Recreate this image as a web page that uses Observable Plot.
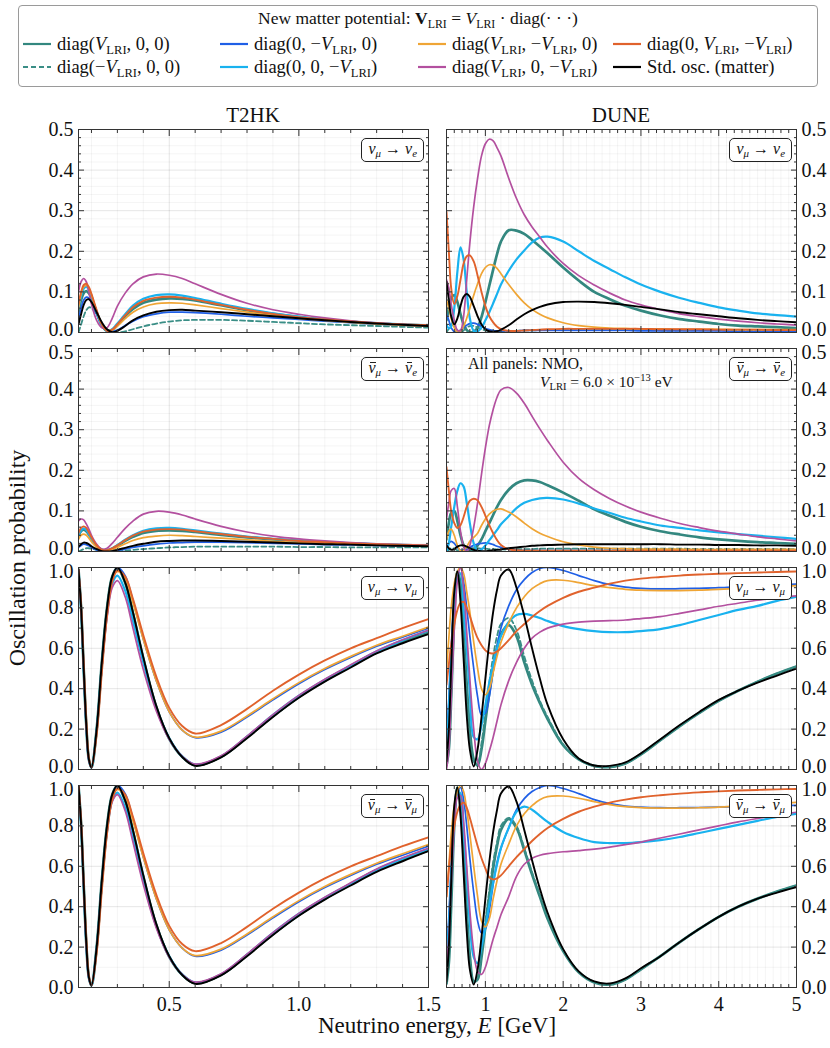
<!DOCTYPE html>
<html><head><meta charset="utf-8">
<script src="https://cdn.jsdelivr.net/npm/d3@7"></script>
<script src="https://cdn.jsdelivr.net/npm/@observablehq/plot@0.6"></script>
<style>
body{margin:0;background:#fff;}
#root{position:relative;width:830px;height:1048px;font-family:"Liberation Serif","DejaVu Serif",serif;color:#111;overflow:hidden;background:#fff}
.abs{position:absolute;white-space:nowrap}
sub{font-size:0.68em;vertical-align:-0.32em;line-height:0}
sup{font-size:0.68em;vertical-align:0.55em;line-height:0}
.legend{left:18px;top:5px;width:800px;height:82px;border:1px solid #9a9a9a;border-radius:4px;box-sizing:border-box;background:#fff}
.lt{font-size:18.5px;line-height:20px}
.ttl{font-size:17.5px;line-height:20px}
.pl{border:1px solid #222;border-radius:5px;background:#fff;font-size:16px;font-style:italic;padding:1px 6px 3px 6px;line-height:18px}
.ob{position:relative;display:inline-block}
.ob .bar{position:absolute;left:2px;right:0px;top:3px;border-top:1px solid #222;height:0}
</style></head><body><div id="root"></div><script>
// ---------- energy grids ----------
const E_T2HK = [0.15,0.16,0.17,0.18,0.19,0.20,0.22,0.24,0.26,0.28,0.30,0.33,0.36,0.40,0.45,0.50,0.55,0.60,0.70,0.80,0.90,1.00,1.10,1.20,1.30,1.40,1.50];
const E_DUNE = [0.5,0.53,0.56,0.6,0.64,0.68,0.72,0.76,0.8,0.85,0.9,0.95,1.0,1.05,1.1,1.15,1.2,1.3,1.4,1.5,1.6,1.7,1.8,2.0,2.2,2.4,2.6,2.8,3.0,3.25,3.5,3.75,4.0,4.25,4.5,4.75,5.0];

// ---------- T2HK  nu_mu -> nu_e ----------
const T2HK_mue = {
 A:[0.05,0.08,0.097,0.102,0.097,0.085,0.05,0.018,0.004,0.006,0.018,0.04,0.058,0.073,0.081,0.084,0.083,0.079,0.067,0.055,0.046,0.038,0.031,0.026,0.022,0.019,0.017],
 B:[0.0,0.02,0.04,0.055,0.062,0.06,0.045,0.022,0.007,0.0,0.0,0.003,0.008,0.015,0.022,0.027,0.03,0.031,0.031,0.029,0.026,0.023,0.02,0.018,0.016,0.014,0.012],
 C:[0.03,0.06,0.08,0.087,0.085,0.075,0.045,0.018,0.004,0.002,0.006,0.017,0.028,0.039,0.046,0.05,0.05,0.049,0.045,0.04,0.036,0.032,0.028,0.024,0.021,0.018,0.016],
 D:[0.06,0.09,0.108,0.113,0.105,0.09,0.05,0.018,0.004,0.008,0.022,0.045,0.066,0.083,0.092,0.094,0.091,0.085,0.071,0.058,0.047,0.039,0.032,0.027,0.023,0.02,0.018],
 E:[0.06,0.095,0.112,0.116,0.108,0.092,0.052,0.02,0.005,0.006,0.016,0.034,0.05,0.063,0.071,0.073,0.072,0.068,0.059,0.05,0.042,0.035,0.03,0.025,0.021,0.018,0.016],
 F:[0.10,0.125,0.133,0.125,0.10,0.07,0.03,0.012,0.012,0.035,0.065,0.097,0.12,0.137,0.144,0.141,0.133,0.12,0.094,0.072,0.056,0.045,0.036,0.029,0.024,0.02,0.018],
 G:[0.07,0.1,0.117,0.12,0.112,0.095,0.055,0.02,0.004,0.007,0.02,0.042,0.062,0.078,0.086,0.088,0.086,0.081,0.068,0.056,0.046,0.038,0.032,0.027,0.023,0.02,0.018],
 H:[0.02,0.045,0.068,0.08,0.082,0.075,0.05,0.025,0.008,0.001,0.004,0.016,0.03,0.042,0.051,0.055,0.056,0.054,0.05,0.045,0.04,0.035,0.03,0.026,0.022,0.019,0.016]
};
// ---------- T2HK  anti nu_mu -> anti nu_e ----------
const T2HK_mue_bar = {
 A:[0.038,0.05,0.054,0.05,0.042,0.031,0.013,0.004,0.003,0.007,0.014,0.026,0.036,0.046,0.051,0.052,0.051,0.048,0.041,0.035,0.03,0.026,0.022,0.02,0.017,0.016,0.014],
 B:[0.0,0.003,0.006,0.008,0.008,0.007,0.004,0.001,0.0,0.0,0.001,0.002,0.004,0.006,0.008,0.01,0.011,0.012,0.012,0.012,0.012,0.011,0.011,0.01,0.01,0.01,0.01],
 C:[0.01,0.015,0.018,0.017,0.014,0.01,0.004,0.001,0.0,0.001,0.003,0.006,0.01,0.014,0.018,0.021,0.022,0.023,0.023,0.022,0.02,0.019,0.017,0.016,0.015,0.014,0.013],
 D:[0.04,0.052,0.057,0.053,0.043,0.032,0.014,0.004,0.003,0.008,0.016,0.029,0.04,0.051,0.057,0.058,0.056,0.052,0.044,0.037,0.031,0.027,0.023,0.02,0.018,0.016,0.015],
 E:[0.03,0.04,0.043,0.04,0.033,0.024,0.01,0.003,0.002,0.005,0.01,0.019,0.027,0.034,0.038,0.04,0.039,0.037,0.033,0.029,0.025,0.022,0.02,0.018,0.016,0.015,0.014],
 F:[0.075,0.08,0.078,0.068,0.055,0.04,0.018,0.006,0.008,0.02,0.035,0.057,0.075,0.092,0.099,0.097,0.09,0.08,0.062,0.048,0.038,0.031,0.026,0.022,0.019,0.017,0.015],
 G:[0.045,0.058,0.062,0.058,0.047,0.035,0.015,0.004,0.003,0.008,0.015,0.028,0.039,0.049,0.054,0.055,0.054,0.05,0.043,0.036,0.031,0.026,0.023,0.02,0.018,0.016,0.015],
 H:[0.012,0.018,0.022,0.021,0.018,0.013,0.006,0.001,0.0,0.001,0.004,0.009,0.014,0.019,0.024,0.026,0.027,0.027,0.026,0.024,0.022,0.02,0.018,0.017,0.015,0.014,0.013]
};
// ---------- T2HK  nu_mu -> nu_mu ----------
const T2HK_mumu = {
 A:[0.99,0.8,0.5,0.22,0.05,0.01,0.2,0.53,0.8,0.955,0.998,0.925,0.775,0.55,0.31,0.152,0.063,0.022,0.063,0.16,0.265,0.36,0.44,0.512,0.58,0.632,0.678],
 B:[0.99,0.8,0.5,0.22,0.05,0.01,0.2,0.53,0.8,0.955,0.999,0.926,0.777,0.552,0.311,0.152,0.062,0.021,0.062,0.158,0.262,0.358,0.438,0.51,0.578,0.63,0.676],
 C:[0.99,0.81,0.52,0.24,0.055,0.01,0.18,0.5,0.77,0.94,1.0,0.96,0.835,0.645,0.44,0.285,0.195,0.158,0.185,0.26,0.345,0.425,0.495,0.555,0.61,0.655,0.70],
 D:[0.99,0.8,0.5,0.22,0.05,0.01,0.19,0.51,0.77,0.92,0.96,0.885,0.735,0.53,0.305,0.155,0.065,0.025,0.065,0.163,0.27,0.365,0.445,0.515,0.585,0.64,0.688],
 E:[0.99,0.81,0.52,0.24,0.055,0.01,0.18,0.5,0.77,0.94,0.98,0.945,0.825,0.645,0.44,0.285,0.195,0.16,0.19,0.265,0.35,0.43,0.5,0.56,0.615,0.66,0.705],
 F:[0.99,0.8,0.5,0.21,0.045,0.01,0.19,0.5,0.75,0.9,0.935,0.855,0.7,0.495,0.29,0.15,0.065,0.027,0.068,0.165,0.272,0.367,0.447,0.518,0.587,0.642,0.69],
 G:[0.99,0.82,0.53,0.25,0.06,0.01,0.17,0.48,0.76,0.93,0.985,0.955,0.845,0.665,0.46,0.305,0.215,0.178,0.22,0.3,0.39,0.47,0.54,0.6,0.65,0.7,0.745],
 H:[0.99,0.8,0.5,0.22,0.05,0.01,0.2,0.53,0.8,0.955,1.0,0.926,0.778,0.555,0.315,0.155,0.062,0.018,0.06,0.155,0.26,0.355,0.435,0.505,0.575,0.625,0.67]
};
// ---------- T2HK  anti nu_mu -> anti nu_mu ----------
const T2HK_mumu_bar = {
 A:[1.0,0.81,0.51,0.22,0.05,0.01,0.2,0.53,0.8,0.955,0.998,0.925,0.775,0.55,0.31,0.152,0.063,0.022,0.063,0.16,0.265,0.36,0.44,0.512,0.58,0.632,0.68],
 B:[1.0,0.81,0.51,0.22,0.05,0.01,0.2,0.53,0.8,0.955,0.999,0.926,0.777,0.552,0.311,0.152,0.062,0.021,0.062,0.158,0.262,0.358,0.438,0.51,0.578,0.63,0.678],
 C:[1.0,0.82,0.52,0.24,0.055,0.01,0.18,0.5,0.77,0.94,1.0,0.96,0.835,0.645,0.44,0.285,0.195,0.155,0.185,0.26,0.345,0.425,0.495,0.555,0.61,0.655,0.70],
 D:[1.0,0.81,0.51,0.22,0.05,0.01,0.19,0.51,0.77,0.925,0.965,0.89,0.74,0.53,0.305,0.155,0.065,0.025,0.065,0.163,0.27,0.365,0.445,0.515,0.583,0.638,0.686],
 E:[1.0,0.82,0.52,0.24,0.055,0.01,0.18,0.5,0.77,0.94,0.98,0.945,0.825,0.645,0.44,0.285,0.195,0.158,0.19,0.265,0.35,0.43,0.5,0.56,0.615,0.662,0.708],
 F:[1.0,0.81,0.5,0.21,0.045,0.01,0.19,0.51,0.77,0.92,0.955,0.875,0.72,0.51,0.295,0.15,0.065,0.027,0.068,0.165,0.272,0.367,0.447,0.518,0.587,0.642,0.69],
 G:[1.0,0.83,0.53,0.25,0.06,0.01,0.17,0.48,0.76,0.93,0.985,0.955,0.845,0.665,0.46,0.305,0.215,0.18,0.22,0.3,0.39,0.47,0.54,0.6,0.65,0.7,0.744],
 H:[1.0,0.81,0.51,0.22,0.05,0.01,0.2,0.53,0.8,0.955,1.0,0.926,0.778,0.555,0.315,0.155,0.062,0.018,0.06,0.155,0.26,0.355,0.435,0.505,0.572,0.625,0.675]
};
// ---------- DUNE  nu_mu -> nu_e ----------
const DUNE_mue = {
 A:[0.03,0.06,0.085,0.092,0.075,0.045,0.02,0.006,0.001,0.002,0.012,0.038,0.075,0.115,0.155,0.193,0.224,0.252,0.251,0.243,0.228,0.212,0.195,0.16,0.128,0.1,0.082,0.066,0.054,0.042,0.033,0.027,0.021,0.017,0.015,0.013,0.011],
 B:[0.0,0.01,0.02,0.015,0.005,0.0,0.005,0.012,0.016,0.016,0.012,0.008,0.005,0.003,0.002,0.002,0.002,0.003,0.004,0.005,0.005,0.006,0.006,0.006,0.006,0.006,0.006,0.006,0.006,0.005,0.005,0.005,0.005,0.005,0.004,0.004,0.004],
 C:[0.045,0.03,0.012,0.002,0.002,0.006,0.012,0.018,0.022,0.023,0.02,0.015,0.01,0.007,0.005,0.004,0.004,0.004,0.004,0.005,0.005,0.005,0.005,0.005,0.005,0.005,0.005,0.005,0.004,0.004,0.004,0.004,0.004,0.003,0.003,0.003,0.003],
 D:[0.02,0.01,0.015,0.06,0.15,0.21,0.18,0.1,0.035,0.004,0.003,0.012,0.03,0.05,0.072,0.095,0.118,0.152,0.18,0.202,0.222,0.234,0.236,0.224,0.2,0.176,0.156,0.136,0.118,0.1,0.085,0.073,0.062,0.054,0.047,0.043,0.039],
 E:[0.08,0.06,0.035,0.012,0.001,0.003,0.015,0.035,0.06,0.092,0.12,0.145,0.16,0.167,0.166,0.158,0.145,0.118,0.094,0.073,0.057,0.045,0.036,0.024,0.017,0.013,0.011,0.01,0.009,0.009,0.008,0.008,0.008,0.007,0.007,0.007,0.007],
 F:[0.13,0.11,0.07,0.03,0.006,0.005,0.04,0.13,0.22,0.31,0.38,0.435,0.465,0.476,0.472,0.455,0.435,0.38,0.33,0.29,0.26,0.235,0.21,0.17,0.14,0.117,0.097,0.08,0.068,0.056,0.046,0.039,0.033,0.028,0.024,0.021,0.018],
 G:[0.297,0.2,0.11,0.07,0.09,0.13,0.17,0.188,0.19,0.175,0.14,0.1,0.065,0.04,0.025,0.014,0.008,0.004,0.004,0.005,0.006,0.007,0.008,0.009,0.009,0.009,0.009,0.009,0.009,0.008,0.008,0.008,0.007,0.007,0.007,0.006,0.006],
 H:[0.125,0.08,0.04,0.02,0.035,0.065,0.088,0.095,0.088,0.065,0.04,0.02,0.008,0.003,0.002,0.003,0.007,0.018,0.032,0.045,0.055,0.063,0.069,0.075,0.076,0.075,0.072,0.068,0.063,0.057,0.05,0.045,0.04,0.035,0.031,0.028,0.025]
};
// ---------- DUNE  anti nu_mu -> anti nu_e ----------
const DUNE_mue_bar = {
 A:[0.03,0.07,0.095,0.1,0.075,0.04,0.015,0.003,0.0,0.004,0.015,0.03,0.05,0.07,0.09,0.11,0.127,0.152,0.168,0.175,0.175,0.171,0.163,0.145,0.125,0.104,0.088,0.073,0.061,0.05,0.042,0.035,0.03,0.026,0.023,0.021,0.019],
 B:[0.0,0.004,0.008,0.007,0.003,0.002,0.004,0.006,0.008,0.008,0.008,0.007,0.007,0.006,0.006,0.005,0.005,0.005,0.006,0.006,0.006,0.007,0.007,0.007,0.007,0.007,0.007,0.007,0.007,0.007,0.007,0.006,0.006,0.006,0.006,0.006,0.006],
 C:[0.01,0.02,0.025,0.02,0.01,0.003,0.002,0.005,0.01,0.015,0.018,0.02,0.021,0.02,0.017,0.013,0.01,0.005,0.003,0.002,0.002,0.002,0.002,0.002,0.002,0.002,0.002,0.002,0.002,0.002,0.002,0.002,0.002,0.002,0.002,0.002,0.002],
 D:[0.0,0.02,0.06,0.11,0.15,0.168,0.16,0.12,0.07,0.02,0.002,0.005,0.015,0.028,0.04,0.053,0.067,0.087,0.107,0.12,0.127,0.131,0.132,0.128,0.118,0.106,0.095,0.083,0.074,0.064,0.058,0.052,0.047,0.043,0.039,0.035,0.031],
 E:[0.03,0.05,0.055,0.04,0.015,0.002,0.002,0.012,0.025,0.035,0.045,0.064,0.08,0.092,0.1,0.104,0.105,0.097,0.085,0.07,0.056,0.045,0.037,0.024,0.016,0.011,0.008,0.007,0.006,0.006,0.006,0.005,0.005,0.005,0.005,0.005,0.005],
 F:[0.08,0.12,0.15,0.155,0.11,0.05,0.012,0.0,0.015,0.06,0.12,0.19,0.255,0.31,0.35,0.38,0.398,0.404,0.39,0.365,0.333,0.302,0.273,0.22,0.18,0.152,0.13,0.112,0.097,0.082,0.069,0.059,0.05,0.043,0.036,0.031,0.026],
 G:[0.208,0.15,0.1,0.07,0.058,0.065,0.085,0.11,0.125,0.13,0.126,0.11,0.088,0.065,0.045,0.028,0.016,0.005,0.003,0.002,0.002,0.002,0.002,0.002,0.002,0.002,0.002,0.002,0.002,0.002,0.002,0.002,0.002,0.002,0.002,0.002,0.002],
 H:[0.015,0.008,0.004,0.006,0.012,0.015,0.015,0.012,0.008,0.004,0.002,0.001,0.001,0.002,0.003,0.004,0.005,0.008,0.01,0.012,0.014,0.015,0.016,0.017,0.018,0.018,0.018,0.018,0.018,0.018,0.017,0.017,0.016,0.016,0.015,0.015,0.014]
};
// ---------- DUNE  nu_mu -> nu_mu ----------
const DUNE_mumu = {
 A:[0.02,0.1,0.35,0.75,0.98,0.92,0.68,0.42,0.2,0.05,0.02,0.1,0.24,0.38,0.5,0.6,0.67,0.715,0.66,0.53,0.42,0.33,0.25,0.12,0.05,0.018,0.012,0.03,0.075,0.145,0.215,0.28,0.34,0.39,0.435,0.475,0.51],
 B:[0.02,0.12,0.4,0.8,0.98,0.9,0.65,0.38,0.17,0.04,0.03,0.13,0.28,0.43,0.56,0.66,0.72,0.75,0.69,0.56,0.44,0.34,0.26,0.125,0.05,0.016,0.012,0.03,0.075,0.145,0.215,0.28,0.34,0.39,0.435,0.475,0.51],
 C:[0.15,0.35,0.6,0.85,0.97,1.0,0.93,0.8,0.66,0.5,0.36,0.27,0.28,0.36,0.49,0.61,0.7,0.81,0.89,0.94,0.975,0.995,1.0,0.985,0.96,0.935,0.915,0.903,0.897,0.894,0.895,0.897,0.9,0.905,0.91,0.914,0.918],
 D:[0.12,0.3,0.55,0.82,0.97,0.97,0.8,0.6,0.38,0.16,0.15,0.22,0.32,0.43,0.52,0.6,0.66,0.73,0.765,0.77,0.762,0.75,0.735,0.71,0.695,0.685,0.68,0.68,0.685,0.695,0.715,0.74,0.765,0.79,0.81,0.835,0.855],
 E:[0.49,0.65,0.8,0.92,0.98,1.0,0.97,0.88,0.78,0.63,0.5,0.4,0.37,0.4,0.48,0.56,0.63,0.725,0.8,0.855,0.895,0.92,0.935,0.937,0.925,0.91,0.9,0.892,0.888,0.886,0.886,0.888,0.892,0.896,0.9,0.905,0.91],
 F:[0.0,0.1,0.35,0.7,0.93,1.0,0.9,0.68,0.45,0.2,0.04,0.0,0.03,0.09,0.16,0.24,0.32,0.44,0.53,0.6,0.65,0.68,0.7,0.72,0.73,0.735,0.737,0.74,0.747,0.757,0.773,0.79,0.808,0.823,0.838,0.85,0.86],
 G:[0.42,0.52,0.62,0.72,0.79,0.825,0.83,0.8,0.76,0.7,0.65,0.615,0.59,0.577,0.575,0.585,0.6,0.64,0.685,0.72,0.755,0.785,0.81,0.85,0.88,0.9,0.92,0.935,0.945,0.953,0.96,0.965,0.969,0.972,0.975,0.978,0.98],
 H:[0.04,0.2,0.5,0.88,0.98,0.83,0.55,0.27,0.1,0.015,0.1,0.26,0.45,0.63,0.78,0.89,0.96,0.99,0.9,0.76,0.6,0.45,0.32,0.15,0.055,0.02,0.018,0.035,0.08,0.15,0.22,0.285,0.345,0.39,0.43,0.465,0.5]
};
// ---------- DUNE  anti nu_mu -> anti nu_mu ----------
const DUNE_mumu_bar = {
 A:[0.02,0.12,0.4,0.8,0.99,0.92,0.66,0.38,0.16,0.03,0.04,0.15,0.3,0.45,0.59,0.7,0.78,0.835,0.79,0.68,0.56,0.45,0.34,0.18,0.075,0.025,0.015,0.04,0.09,0.155,0.225,0.29,0.35,0.4,0.44,0.475,0.505],
 B:[0.02,0.14,0.44,0.84,0.99,0.9,0.63,0.35,0.14,0.025,0.05,0.17,0.33,0.48,0.62,0.72,0.8,0.84,0.8,0.69,0.57,0.46,0.35,0.185,0.078,0.026,0.015,0.04,0.09,0.155,0.225,0.29,0.35,0.4,0.44,0.475,0.505],
 C:[0.15,0.35,0.6,0.85,0.96,0.99,0.93,0.8,0.64,0.47,0.33,0.27,0.29,0.38,0.51,0.62,0.69,0.79,0.88,0.935,0.97,0.99,1.0,0.985,0.96,0.93,0.91,0.898,0.893,0.89,0.89,0.891,0.893,0.895,0.897,0.9,0.902],
 D:[0.15,0.3,0.55,0.83,0.97,0.96,0.78,0.55,0.32,0.15,0.12,0.2,0.3,0.41,0.52,0.61,0.69,0.79,0.87,0.895,0.88,0.85,0.82,0.77,0.74,0.72,0.715,0.715,0.72,0.73,0.745,0.765,0.785,0.805,0.825,0.845,0.86],
 E:[0.45,0.6,0.76,0.9,0.97,1.0,0.97,0.88,0.76,0.6,0.45,0.33,0.3,0.34,0.44,0.53,0.61,0.71,0.8,0.86,0.9,0.93,0.945,0.948,0.937,0.92,0.905,0.895,0.89,0.888,0.888,0.89,0.893,0.898,0.903,0.91,0.917],
 F:[0.1,0.25,0.5,0.8,0.94,0.95,0.82,0.6,0.38,0.18,0.08,0.065,0.1,0.17,0.24,0.3,0.36,0.45,0.55,0.61,0.64,0.655,0.663,0.672,0.678,0.685,0.695,0.707,0.72,0.74,0.76,0.78,0.8,0.82,0.837,0.853,0.868],
 G:[0.45,0.58,0.7,0.8,0.87,0.905,0.915,0.89,0.84,0.77,0.7,0.64,0.59,0.545,0.535,0.54,0.555,0.6,0.645,0.685,0.725,0.76,0.79,0.835,0.87,0.895,0.915,0.93,0.942,0.952,0.96,0.966,0.971,0.975,0.978,0.981,0.983],
 H:[0.03,0.2,0.52,0.9,0.99,0.85,0.57,0.28,0.09,0.015,0.09,0.25,0.44,0.62,0.77,0.88,0.96,0.995,0.92,0.78,0.63,0.49,0.37,0.19,0.08,0.03,0.02,0.045,0.095,0.155,0.225,0.29,0.35,0.4,0.44,0.47,0.497]
};

// ---------- tick labels ----------
const T2HK_xTicks = [0.5, 1.0, 1.5];
const DUNE_xTicks = [1, 2, 3, 4, 5];
const P_ticks_e = [0, 0.1, 0.2, 0.3, 0.4, 0.5];
const P_ticks_mu = [0, 0.2, 0.4, 0.6, 0.8, 1.0];

// ---------- series styling / legend text ----------
const SERIES = [
 {key:"A", color:"#33877f", width:2.7, dash:null, label:'diag(<i>V</i><sub>LRI</sub>, 0, 0)'},
 {key:"B", color:"#3a8e86", width:1.8, dash:"5,3", label:'diag(−<i>V</i><sub>LRI</sub>, 0, 0)'},
 {key:"C", color:"#1f5fe6", width:1.7, dash:null, label:'diag(0, −<i>V</i><sub>LRI</sub>, 0)'},
 {key:"D", color:"#19b2ef", width:2.2, dash:null, label:'diag(0, 0, −<i>V</i><sub>LRI</sub>)'},
 {key:"E", color:"#efa535", width:1.7, dash:null, label:'diag(<i>V</i><sub>LRI</sub>, −<i>V</i><sub>LRI</sub>, 0)'},
 {key:"F", color:"#b3509f", width:1.7, dash:null, label:'diag(<i>V</i><sub>LRI</sub>, 0, −<i>V</i><sub>LRI</sub>)'},
 {key:"G", color:"#e0622c", width:1.9, dash:null, label:'diag(0, <i>V</i><sub>LRI</sub>, −<i>V</i><sub>LRI</sub>)'},
 {key:"H", color:"#000000", width:1.9, dash:null, label:'Std. osc. (matter)'}
];

const root = document.getElementById("root");
function addHTML(cls, html, style) {
  const d = document.createElement("div");
  d.className = "abs " + (cls || "");
  d.innerHTML = html;
  Object.assign(d.style, style);
  root.appendChild(d);
  return d;
}

// ---------- legend ----------
addHTML("legend", "", {});
addHTML("ttl", 'New matter potential: <b>V</b><sub>LRI</sub> = <i>V</i><sub>LRI</sub> · diag(· · ·)', {left:"18px", width:"800px", top:"8px", textAlign:"center"});
const legCols = [22, 219, 417, 612];
const legRows = [45, 68];
const legOrder = [["A","B"],["C","D"],["E","F"],["G","H"]];
legOrder.forEach((col, ci) => col.forEach((k, ri) => {
  const s = SERIES.find(d => d.key === k);
  const y = legRows[ri];
  addHTML("", `<svg width="30" height="6"><line x1="1" y1="3" x2="29" y2="3" stroke="${s.color}" stroke-width="2.2" ${s.dash ? 'stroke-dasharray="5,3"' : ''}/></svg>`, {left: legCols[ci] + "px", top: (y - 4) + "px", lineHeight: "0"});
  addHTML("lt", s.label, {left: (legCols[ci] + 35) + "px", top: (y - 11) + "px"});
}));

// ---------- panels ----------
const fmt1 = d3.format(".1f");
const fmt0 = d3.format("d");
function ticksRange(a, b, step) { const out = []; for (let v = a; v <= b + 1e-9; v += step) out.push(+v.toFixed(4)); return out; }

function makePanel(cfg) {
  const {xs, vals, xDomain, yDomain, xMajor, xMinor, yMajor, yMinor, x0, y0, h, isLeft, isBottom, isTop, xFmt} = cfg;
  const W = 350;
  const mL = isLeft ? 62 : 3, mR = isLeft ? 3 : 62, mT = 3, mB = isBottom ? 42 : 3;
  const marks = [
    Plot.gridX(xMinor, {stroke: "#000", strokeOpacity: 0.045}),
    Plot.gridY(yMinor, {stroke: "#000", strokeOpacity: 0.045}),
    Plot.gridX(xMajor, {stroke: "#000", strokeOpacity: 0.1}),
    Plot.gridY(yMajor, {stroke: "#000", strokeOpacity: 0.1})
  ];
  for (const s of SERIES) {
    const data = xs.map((x, i) => ({E: x, P: vals[s.key][i]}));
    marks.push(Plot.line(data, {x: "E", y: "P", stroke: s.color, strokeWidth: s.width, strokeDasharray: s.dash, curve: "catmull-rom", clip: true}));
  }
  marks.push(Plot.frame({stroke: "#333", strokeWidth: 1}));
  for (const anchor of ["top", "bottom"]) {
    marks.push(Plot.axisX(xMajor, {anchor, tickSize: -6, tickFormat: () => "", label: null, stroke: "#333"}));
    marks.push(Plot.axisX(xMinor, {anchor, tickSize: -3, tickFormat: () => "", label: null, stroke: "#333"}));
  }
  for (const anchor of ["left", "right"]) {
    marks.push(Plot.axisY(yMajor, {anchor, tickSize: -6, tickFormat: () => "", label: null, stroke: "#333"}));
    marks.push(Plot.axisY(yMinor, {anchor, tickSize: -3, tickFormat: () => "", label: null, stroke: "#333"}));
  }
  const yA = isLeft ? "left" : "right";
  const yLo = yMajor[0], yHi = yMajor[yMajor.length - 1];
  const inner = yMajor.slice(1, -1);
  marks.push(Plot.axisY(inner, {anchor: yA, tickSize: 0, tickPadding: 5, tickFormat: fmt1, label: null, fill: "#111"}));
  marks.push(Plot.axisY([yLo], {anchor: yA, tickSize: 0, tickPadding: 5, tickFormat: fmt1, label: null, fill: "#111", dy: isBottom ? 0 : -3}));
  marks.push(Plot.axisY([yHi], {anchor: yA, tickSize: 0, tickPadding: 5, tickFormat: fmt1, label: null, fill: "#111", dy: isTop ? 0 : 4}));
  if (isBottom) marks.push(Plot.axisX(xMajor, {anchor: "bottom", tickSize: 0, tickPadding: 9, tickFormat: xFmt, label: null, fill: "#111"}));
  const svg = Plot.plot({
    width: W + mL + mR, height: h + mT + mB,
    marginLeft: mL, marginRight: mR, marginTop: mT, marginBottom: mB,
    x: {domain: xDomain, label: null},
    y: {domain: yDomain, label: null},
    style: {fontFamily: '"Liberation Serif","DejaVu Serif",serif', fontSize: "20px", background: "transparent", overflow: "visible", color: "#111"},
    marks
  });
  svg.style.position = "absolute";
  svg.style.left = (x0 - mL) + "px";
  svg.style.top = (y0 - mT) + "px";
  root.appendChild(svg);
}

const colX = [78, 446];
const rowY = [129, 348, 567, 785];
const rowH = [203, 203, 202, 202];
const panels = [
  {vals: T2HK_mue, col: 0, row: 0}, {vals: DUNE_mue, col: 1, row: 0},
  {vals: T2HK_mue_bar, col: 0, row: 1}, {vals: DUNE_mue_bar, col: 1, row: 1},
  {vals: T2HK_mumu, col: 0, row: 2}, {vals: DUNE_mumu, col: 1, row: 2},
  {vals: T2HK_mumu_bar, col: 0, row: 3}, {vals: DUNE_mumu_bar, col: 1, row: 3}
];
for (const p of panels) {
  const isLeft = p.col === 0;
  const eRow = p.row < 2;
  makePanel({
    xs: isLeft ? E_T2HK : E_DUNE,
    vals: p.vals,
    xDomain: isLeft ? [0.15, 1.5] : [0.5, 5],
    yDomain: eRow ? [0, 0.5] : [0, 1],
    xMajor: isLeft ? T2HK_xTicks : DUNE_xTicks,
    xMinor: isLeft ? ticksRange(0.2, 1.4, 0.1).filter(v => Math.abs(v - 0.5) > 1e-6 && Math.abs(v - 1) > 1e-6) : ticksRange(0.6, 4.9, 0.1).filter(v => Math.abs(v - Math.round(v)) > 1e-6),
    yMajor: eRow ? P_ticks_e : P_ticks_mu,
    yMinor: eRow ? ticksRange(0.02, 0.48, 0.02).filter(v => Math.abs(v * 10 - Math.round(v * 10)) > 1e-6) : ticksRange(0.1, 0.9, 0.2),
    x0: colX[p.col], y0: rowY[p.row], h: rowH[p.row],
    isLeft, isBottom: p.row === 3, isTop: p.row === 0,
    xFmt: isLeft ? fmt1 : fmt0
  });
}

// ---------- channel labels ----------
const nub = '<span class="ob"><i>ν</i><span class="bar"></span></span>';
const chanLabels = [
  '<i>ν</i><sub><i>μ</i></sub> → <i>ν</i><sub><i>e</i></sub>',
  `${nub}<sub><i>μ</i></sub> → ${nub}<sub><i>e</i></sub>`,
  '<i>ν</i><sub><i>μ</i></sub> → <i>ν</i><sub><i>μ</i></sub>',
  `${nub}<sub><i>μ</i></sub> → ${nub}<sub><i>μ</i></sub>`
];
for (let r = 0; r < 4; r++) for (let c = 0; c < 2; c++) {
  addHTML("pl", chanLabels[r], {right: (830 - (colX[c] + 350 - 4)) + "px", top: (rowY[r] + 9) + "px"});
}

// ---------- titles / axis labels / note ----------
addHTML("", "T2HK", {left: colX[0] + "px", width: "350px", textAlign: "center", top: "103px", fontSize: "21px"});
addHTML("", "DUNE", {left: colX[1] + "px", width: "350px", textAlign: "center", top: "103px", fontSize: "21px"});
addHTML("", "Oscillation probability", {left: "17px", top: "558px", fontSize: "24px", transform: "translate(-50%,-50%) rotate(-90deg)"});
addHTML("", 'Neutrino energy, <i>E</i> [GeV]', {left: "0px", width: "874px", textAlign: "center", top: "1013px", fontSize: "23px"});
addHTML("", "All panels: NMO,", {left: "468px", top: "355px", fontSize: "16px"});
addHTML("", '<i>V</i><sub>LRI</sub> = 6.0 × 10<sup>−13</sup> eV', {left: "540px", top: "373px", fontSize: "15.5px"});
</script></body></html>
